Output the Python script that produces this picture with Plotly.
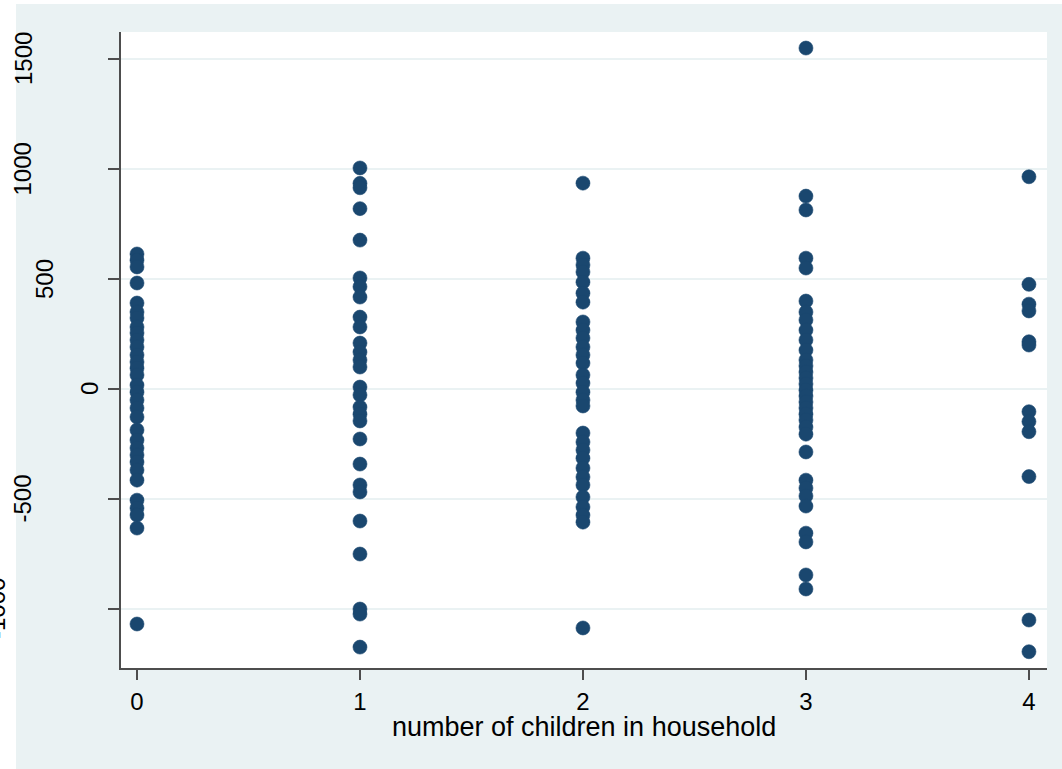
import plotly.graph_objects as go

# number of children in household (x) and the plotted value (y) per group
children_0 = [614, 586, 555, 482, 391, 350, 323, 282, 255, 223, 191, 155, 123, 95, 64, 18,
              -14, -50, -86, -127, -186, -232, -268, -300, -332, -368, -414, -505, -541,
              -573, -632, -1068]
children_1 = [1005, 935, 915, 820, 677, 505, 465, 418, 327, 282, 209, 168, 132, 100, 9, -27,
              -82, -114, -145, -227, -341, -436, -468, -600, -750, -1000, -1023, -1173]
children_2 = [936, 595, 564, 532, 486, 436, 395, 305, 268, 232, 191, 155, 118, 64, 27, -14,
              -50, -77, -200, -241, -277, -314, -359, -400, -436, -491, -536, -573, -605, -1086]
children_3 = [1550, 877, 814, 595, 550, 400, 350, 314, 268, 223, 177, 132, 105, 77, 50, 23,
              -5, -32, -59, -86, -114, -141, -173, -205, -286, -414, -450, -486, -532, -655,
              -695, -845, -909]
children_4 = [965, 476, 386, 355, 215, 200, -103, -148, -194, -398, -1050, -1194]

groups = [0, 1, 2, 3, 4]
values = [children_0, children_1, children_2, children_3, children_4]

x_ticks = [0, 1, 2, 3, 4]
y_ticks = [-1000, -500, 0, 500, 1000, 1500]
y_tick_labels = ["-1000", "-500", "0", "500", "1000", "1500"]
x_title = "number of children in household"

xs, ys = [], []
for g, vals in zip(groups, values):
    xs += [g] * len(vals)
    ys += vals

BG = "#EAF2F3"
NAVY = "#1A476F"
AXIS = "#4D4D4D"
FONT = "Liberation Sans, Arial, sans-serif"

fig = go.Figure()
fig.add_trace(go.Scatter(
    x=xs, y=ys, mode="markers",
    marker=dict(size=14, color=NAVY, line=dict(width=0.6, color=NAVY)),
    showlegend=False, hoverinfo="x+y",
))

W, H = 1062, 769
L, R, T, B = 121, 15, 32, 101
pw, ph = W - L - R, H - T - B

fig.update_layout(
    width=W, height=H,
    margin=dict(l=L, r=R, t=T, b=B, pad=0),
    paper_bgcolor=BG, plot_bgcolor="white",
    font=dict(family=FONT, color="black"),
    xaxis=dict(
        range=[-0.0717, 4.081], tickmode="array", tickvals=x_ticks,
        ticktext=[str(v) for v in x_ticks],
        ticks="outside", ticklen=10, tickwidth=1.5, tickcolor=AXIS,
        showline=True, linecolor=AXIS, linewidth=1.5,
        showgrid=False, zeroline=False,
        tickfont=dict(size=24, family=FONT, color="black"),
        ticklabelstandoff=1,
    ),
    yaxis=dict(
        range=[-1268, 1623], tickmode="array", tickvals=y_ticks,
        ticks="outside", ticklen=11, tickwidth=1.5, tickcolor=AXIS,
        showline=True, linecolor=AXIS, linewidth=1.5,
        showgrid=True, gridcolor=BG, gridwidth=2,
        zeroline=False, showticklabels=False,
    ),
)

def px_x(p):
    return (p - L) / pw

def px_y(p):
    return (H - B - p) / ph

# white page margin strips (left and top) outside the grey-blue background
fig.add_shape(type="rect", xref="paper", yref="paper", layer="below",
              x0=px_x(-5), x1=px_x(16), y0=px_y(H + 5), y1=px_y(-5),
              fillcolor="white", line=dict(width=0))
fig.add_shape(type="rect", xref="paper", yref="paper", layer="below",
              x0=px_x(-5), x1=px_x(W + 5), y0=px_y(4), y1=px_y(-5),
              fillcolor="white", line=dict(width=0))

# rotated y tick labels, positioned as in the source rendering
label_centers = {"-1000": -4, "-500": 22.5, "0": 89, "500": 44, "1000": 22.5, "1500": 23}
for val, lab in zip(y_ticks, y_tick_labels):
    fig.add_annotation(
        x=px_x(label_centers[lab]), xref="paper", y=val, yref="y",
        text=lab, textangle=-90, showarrow=False,
        xanchor="center", yanchor="middle",
        font=dict(size=24, family=FONT, color="black"),
    )

# x axis title
fig.add_annotation(
    x=0.5, xref="paper", y=px_y(727), yref="paper",
    text=x_title, showarrow=False, xanchor="center", yanchor="middle",
    font=dict(size=27, family=FONT, color="black"),
)

fig.write_html("out.html", config={"displayModeBar": False},
               post_script="document.body.style.margin='0';")
